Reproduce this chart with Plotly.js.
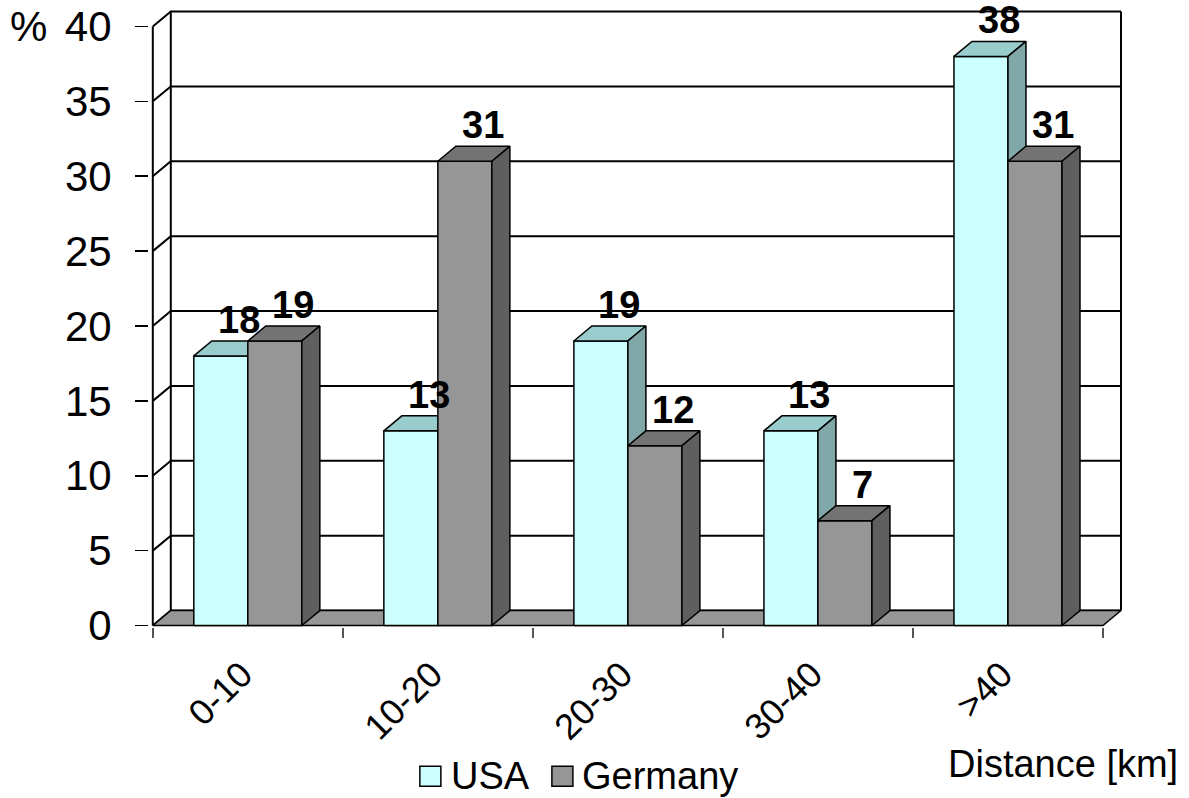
<!DOCTYPE html>
<html>
<head>
<meta charset="utf-8">
<script src="https://cdn.plot.ly/plotly-3.0.1.min.js"></script>
<style>html,body{margin:0;padding:0;background:#fff;}#chart{width:1189px;height:798px;}</style>
</head>
<body>
<div id="chart"></div>
<script>
// ---- data ----
const categories = ['0-10', '10-20', '20-30', '30-40', '>40'];
const usaValues = [18, 13, 19, 13, 38];
const germanyValues = [19, 31, 12, 7, 31];
const seriesNames = ['USA', 'Germany'];
const yTickValues = [0, 5, 10, 15, 20, 25, 30, 35, 40];
const yTickLabels = ['0', '5', '10', '15', '20', '25', '30', '35', '%\u2004\u200A40'];
const xTitle = 'Distance [km]';

// ---- style / geometry ----
const FONT = 'Liberation Sans, Arial, Helvetica, sans-serif';
const BAR_W = 54 / 190;   // width of each bar in category units
const DX = 18 / 190;      // depth offset (x, category units)
const DY = 1;             // depth offset (y, value units)
const COLORS = {
  USA: {front: '#CCFFFF', top: '#99CCCC', side: '#80A8A8'},
  Germany: {front: '#969696', top: '#737373', side: '#5F5F5F'}
};
const W = 1189, H = 798;
const XR = [-0.02, 5.1], YR = [-0.1, 41.1];
const PXU_X = 190, PXU_Y = 15;
const X0PX = 153, Y0PX = 626;
const L = X0PX + XR[0] * PXU_X;
const PW = (XR[1] - XR[0]) * PXU_X;
const PH = (YR[1] - YR[0]) * PXU_Y;
const B = H - (Y0PX - YR[0] * PXU_Y);
const T = H - B - PH;
const R = W - L - PW;
const px2paperX = p => (p - L) / PW;
const px2paperY = p => (H - B - p) / PH;

const nCat = categories.length;
const traces = [];

// walls: left side wall diagonals, back wall gridlines, edges
const wx = [], wy = [];
yTickValues.forEach(v => {
  wx.push(0, DX, nCat + DX, null); wy.push(v, v + DY, v + DY, null);
});
const yMax = yTickValues[yTickValues.length - 1];
wx.push(0, 0, null, DX, DX, null, nCat + DX, nCat + DX, null);
wy.push(0, yMax, null, DY, yMax + DY, null, DY, yMax + DY, null);
traces.push({type: 'scatter', mode: 'lines', x: wx, y: wy, line: {color: '#000', width: 2},
  hoverinfo: 'skip', showlegend: false});

// floor
traces.push({type: 'scatter', mode: 'lines', fill: 'toself', fillcolor: '#969696',
  x: [0, nCat, nCat + DX, DX, 0], y: [0, 0, DY, DY, 0],
  line: {color: '#000', width: 1.5}, hoverinfo: 'skip', showlegend: false});

// bars
const allSeries = [usaValues, germanyValues];
allSeries.forEach((vals, s) => {
  const name = seriesNames[s];
  const faces = {front: {x: [], y: []}, top: {x: [], y: []}, side: {x: [], y: []}};
  vals.forEach((v, i) => {
    const x0 = i + 0.5 - BAR_W + s * BAR_W;
    const x1 = x0 + BAR_W;
    faces.front.x.push(x0, x1, x1, x0, x0, null);
    faces.front.y.push(0, 0, v, v, 0, null);
    faces.top.x.push(x0, x1, x1 + DX, x0 + DX, x0, null);
    faces.top.y.push(v, v, v + DY, v + DY, v, null);
    faces.side.x.push(x1, x1 + DX, x1 + DX, x1, x1, null);
    faces.side.y.push(0, DY, v + DY, v, 0, null);
  });
  ['front', 'top', 'side'].forEach(f => {
    traces.push({type: 'scatter', mode: 'lines', fill: 'toself', fillcolor: COLORS[name][f],
      x: faces[f].x, y: faces[f].y, line: {color: '#000', width: 1.5},
      name: name, hoverinfo: 'skip', showlegend: false});
  });
});

// value labels
const annotations = [];
allSeries.forEach((vals, s) => {
  vals.forEach((v, i) => {
    const xc = i + 0.5 - BAR_W / 2 + s * BAR_W + DX;
    annotations.push({x: xc, y: v + DY, xref: 'x', yref: 'y', text: '<b>' + v + '</b>',
      showarrow: false, yanchor: 'middle', xanchor: 'center', yshift: 21,
      font: {family: FONT, size: 38, color: '#000'}});
  });
});

// x title
annotations.push({xref: 'paper', yref: 'paper', x: px2paperX(946), y: px2paperY(765),
  xanchor: 'left', yanchor: 'middle', text: xTitle, showarrow: false,
  font: {family: FONT, size: 38, color: '#000'}});

// manual legend
const shapes = [];
const legendItems = [{name: seriesNames[0], box: 420, text: 449}, {name: seriesNames[1], box: 552, text: 580}];
legendItems.forEach(it => {
  shapes.push({type: 'rect', xref: 'paper', yref: 'paper',
    x0: px2paperX(it.box), x1: px2paperX(it.box + 21), y0: px2paperY(787), y1: px2paperY(767),
    fillcolor: COLORS[it.name].front, line: {color: '#000', width: 1.5}});
  annotations.push({xref: 'paper', yref: 'paper', x: px2paperX(it.text), y: px2paperY(777),
    xanchor: 'left', yanchor: 'middle', text: it.name, showarrow: false,
    font: {family: FONT, size: 38, color: '#000'}});
});

const layout = {
  width: W, height: H,
  margin: {l: L, r: R, t: T, b: B, pad: 0},
  paper_bgcolor: '#fff', plot_bgcolor: '#fff',
  showlegend: false,
  font: {family: FONT, color: '#000'},
  xaxis: {range: XR, showgrid: false, zeroline: false, showline: false,
    tickmode: 'array', tickvals: categories.map((c, i) => i + 0.5), ticktext: categories,
    ticks: '', tickangle: -45, tickfont: {family: FONT, size: 36, color: '#000'},
    ticklabelstandoff: 18, ticklabelshift: -6,
    minor: {tickmode: 'linear', tick0: 0, dtick: 1, ticks: 'outside', ticklen: 10,
      tickwidth: 1.5, tickcolor: '#555', showgrid: false},
    fixedrange: true},
  yaxis: {range: YR, showgrid: false, zeroline: false, showline: false,
    tickmode: 'array', tickvals: yTickValues, ticktext: yTickLabels,
    ticks: 'outside', ticklen: 13, tickwidth: 1.5, tickcolor: '#000',
    ticklabelstandoff: 15,
    tickfont: {family: FONT, size: 42, color: '#000'}, fixedrange: true},
  annotations: annotations,
  shapes: shapes
};

Plotly.newPlot('chart', traces, layout, {displayModeBar: false, staticPlot: true});
</script>
</body>
</html>
